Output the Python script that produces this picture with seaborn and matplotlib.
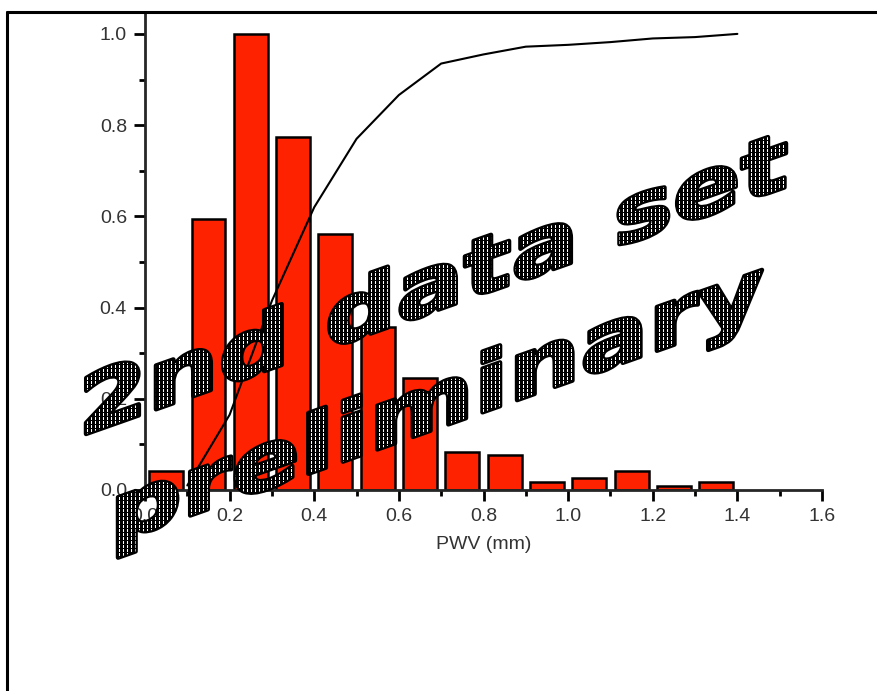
import numpy as np
import pandas as pd
import matplotlib
matplotlib.use("Agg")
import matplotlib.pyplot as plt
import seaborn as sns
from matplotlib.textpath import TextPath
from matplotlib.font_manager import FontProperties
from matplotlib.patches import PathPatch
from matplotlib.transforms import Affine2D
from matplotlib.lines import Line2D
from matplotlib.ticker import MultipleLocator, FormatStrFormatter

# histogram of PWV (normalised to the peak bin)
bin_centers = [0.05, 0.15, 0.25, 0.35, 0.45, 0.55, 0.65, 0.75, 0.85, 0.95, 1.05, 1.15, 1.25, 1.35]
bin_heights = [0.042, 0.594, 1.0, 0.774, 0.561, 0.357, 0.246, 0.083, 0.077, 0.018, 0.027, 0.042, 0.008, 0.018]

# cumulative curve
cum_x = [0.1, 0.2, 0.3, 0.4, 0.5, 0.6, 0.7, 0.8, 0.9, 1.0, 1.1, 1.2, 1.3, 1.4]
cum_y = [0.01, 0.165, 0.415, 0.62, 0.77, 0.866, 0.935, 0.955, 0.972, 0.976, 0.982, 0.99, 0.993, 1.0]

x_label = "PWV (mm)"
watermark_lines = ["2nd data set", "preliminary"]

sns.set_style("ticks")
plt.rcParams["font.family"] = ["Liberation Sans", "DejaVu Sans"]

W, H, DPI = 877, 691, 100
fig = plt.figure(figsize=(W / DPI, H / DPI), dpi=DPI)
ax = fig.add_axes([145 / W, (H - 490) / H, (822 - 145) / W, (490 - 12) / H])

df = pd.DataFrame({"pwv": bin_centers, "freq": bin_heights})
sns.barplot(data=df, x="pwv", y="freq", native_scale=True, width=0.8,
            color="#ff2200", saturation=1, edgecolor="black", linewidth=1.8,
            errorbar=None, ax=ax)
sns.lineplot(x=cum_x, y=cum_y, color="black", linewidth=1.5, ax=ax)

ax.set_xlim(0, 1.6)
ax.set_ylim(0, 1.048)
ax.xaxis.set_major_locator(MultipleLocator(0.2))
ax.xaxis.set_minor_locator(MultipleLocator(0.1))
ax.yaxis.set_major_locator(MultipleLocator(0.2))
ax.yaxis.set_minor_locator(MultipleLocator(0.1))
ax.xaxis.set_major_formatter(FormatStrFormatter("%.1f"))
ax.yaxis.set_major_formatter(FormatStrFormatter("%.1f"))
for s in ["top", "right"]:
    ax.spines[s].set_visible(False)
for s in ["left", "bottom"]:
    ax.spines[s].set_linewidth(2)
ax.tick_params(which="major", length=8, width=2, labelsize=14, pad=5, color="black", labelcolor="#333333")
ax.tick_params(which="minor", length=4, width=2, color="black")
ax.set_xlabel(x_label, fontsize=14, labelpad=8, color="#333333")
ax.set_ylabel("")

# frame around the figure (left and top edges)
fig.add_artist(Line2D([7 / W, 7 / W], [0, (H - 12) / H], transform=fig.transFigure, color="black", lw=2.2))
fig.add_artist(Line2D([7 / W, 1], [(H - 12) / H, (H - 12) / H], transform=fig.transFigure, color="black", lw=2.2))

# stippled, sheared watermark text
fp = FontProperties(family="DejaVu Sans", weight="bold")
pix = Affine2D().scale(1 / DPI) + fig.dpi_scale_trans
shear = 0.353


def watermark(text, x0, y0_img, width, em):
    tp = TextPath((0, 0), text, size=1, prop=fp)
    ext = tp.get_extents()
    sx = width / (ext.width * em)
    tr = (Affine2D().translate(-ext.x0, 0).scale(em * sx, em)
          .skew(0, np.arctan(shear)).translate(x0, H - y0_img))
    path = tr.transform_path(tp)
    patch = PathPatch(path, facecolor="black", edgecolor="black", lw=3.2,
                      joinstyle="round", transform=pix, zorder=5)
    fig.add_artist(patch)
    bb = path.get_extents()
    gx, gy = np.meshgrid(np.arange(np.floor(bb.x0), bb.x1, 4), np.arange(np.floor(bb.y0), bb.y1, 4))
    dots = Line2D(gx.ravel() + 0.5, gy.ravel() + 0.5, ls="none", marker="s", ms=0.75, mew=0,
                  color="white", transform=pix, zorder=6)
    fig.add_artist(dots)
    dots.set_clip_path(patch)


watermark(watermark_lines[0], 86, 434, 700, 80)
watermark(watermark_lines[1], 118, 541, 644, 80)

fig.savefig("out.png", dpi=DPI)
